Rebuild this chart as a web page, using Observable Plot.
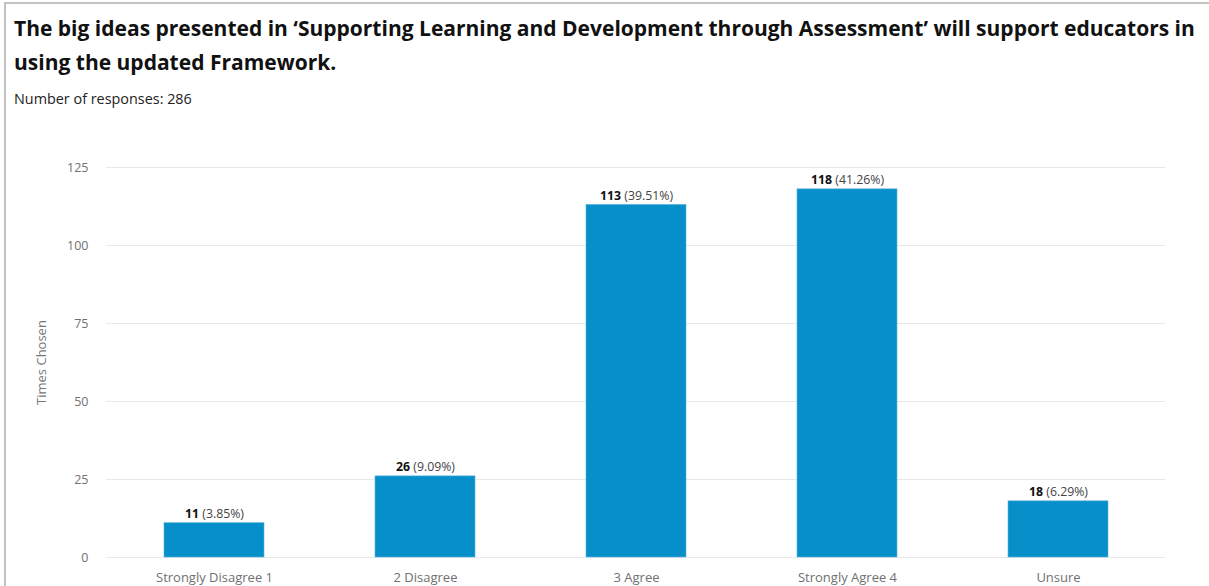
<!DOCTYPE html>
<html>
<head>
<meta charset="utf-8">
<script src="https://cdn.jsdelivr.net/npm/d3@7"></script>
<script src="https://cdn.jsdelivr.net/npm/@observablehq/plot@0.6"></script>
<style>
  html, body { margin: 0; padding: 0; background: #fff; width: 1209px; height: 586px; overflow: hidden; font-family: "Open Sans", sans-serif; }
  #frame { position: absolute; left: 4px; top: 2px; width: 1300px; height: 700px; border-left: 2px solid #c3c3c3; border-top: 2px solid #c3c3c3; }
  #title { position: absolute; left: 14px; top: 11px; font-size: 21px; font-weight: 700; color: #111; line-height: 34px; white-space: nowrap; }
  #subtitle { position: absolute; left: 14px; top: 89px; font-size: 14.4px; color: #222; }
  #chart { position: absolute; left: 0; top: 130px; }
  #chart svg { overflow: visible; }
</style>
</head>
<body>
<div id="frame"></div>
<div id="title">The big ideas presented in ‘Supporting Learning and Development through Assessment’ will support educators in<br>using the updated Framework.</div>
<div id="subtitle">Number of responses: 286</div>
<div id="chart"></div>
<script>
const categories = ["Strongly Disagree 1", "2 Disagree", "3 Agree", "Strongly Agree 4", "Unsure"];
const counts = [11, 26, 113, 118, 18];
const percents = ["3.85%", "9.09%", "39.51%", "41.26%", "6.29%"];
const yTicks = [0, 25, 50, 75, 100, 125];

const data = categories.map((c, i) => ({category: c, count: counts[i], pct: percents[i]}));

const chart = Plot.plot({
  width: 1209,
  height: 456,
  marginTop: 37,
  marginBottom: 29,
  marginLeft: 106,
  marginRight: 44,
  style: {fontFamily: "Open Sans, sans-serif", fontSize: "12px", color: "#666", background: "transparent"},
  x: {domain: categories, paddingInner: 0.527, paddingOuter: 0.2635, align: 0.5},
  y: {domain: [0, 125]},
  marks: [
    Plot.gridY(yTicks, {stroke: "#e8e8e8", strokeOpacity: 1, strokeWidth: 1.2}),
    Plot.axisY(yTicks, {tickSize: 0, tickPadding: 18, fill: "#707070", fontSize: 12.5, label: "Times Chosen", labelAnchor: "center", labelOffset: 70, labelArrow: "none"}),
    Plot.axisX({tickSize: 0, tickPadding: 15, fill: "#707070", fontSize: 13, label: null}),
    Plot.barY(data, {x: "category", y: "count", fill: "#078fc9", stroke: "#5ab6e0", strokeWidth: 0.6}),
    Plot.text(data, {x: "category", y: "count", text: d => `${d.count} (${d.pct})`, lineAnchor: "bottom", dy: -5, fill: "#111", fontSize: 12.3, className: "barlabel"})
  ]
});
document.getElementById("chart").appendChild(chart);

// Bold the count part of each bar label, keep the percentage regular
d3.select(chart).selectAll("g.barlabel text").each(function() {
  const t = d3.select(this);
  const s = t.text();
  const idx = s.indexOf(" ");
  t.text(null);
  t.append("tspan").attr("font-weight", 700).text(s.slice(0, idx));
  t.append("tspan").attr("fill", "#444").text(s.slice(idx));
});
// larger axis label
d3.select(chart).selectAll("g[aria-label='y-axis label'] text").attr("font-size", 13).attr("fill", "#777");
</script>
</body>
</html>
